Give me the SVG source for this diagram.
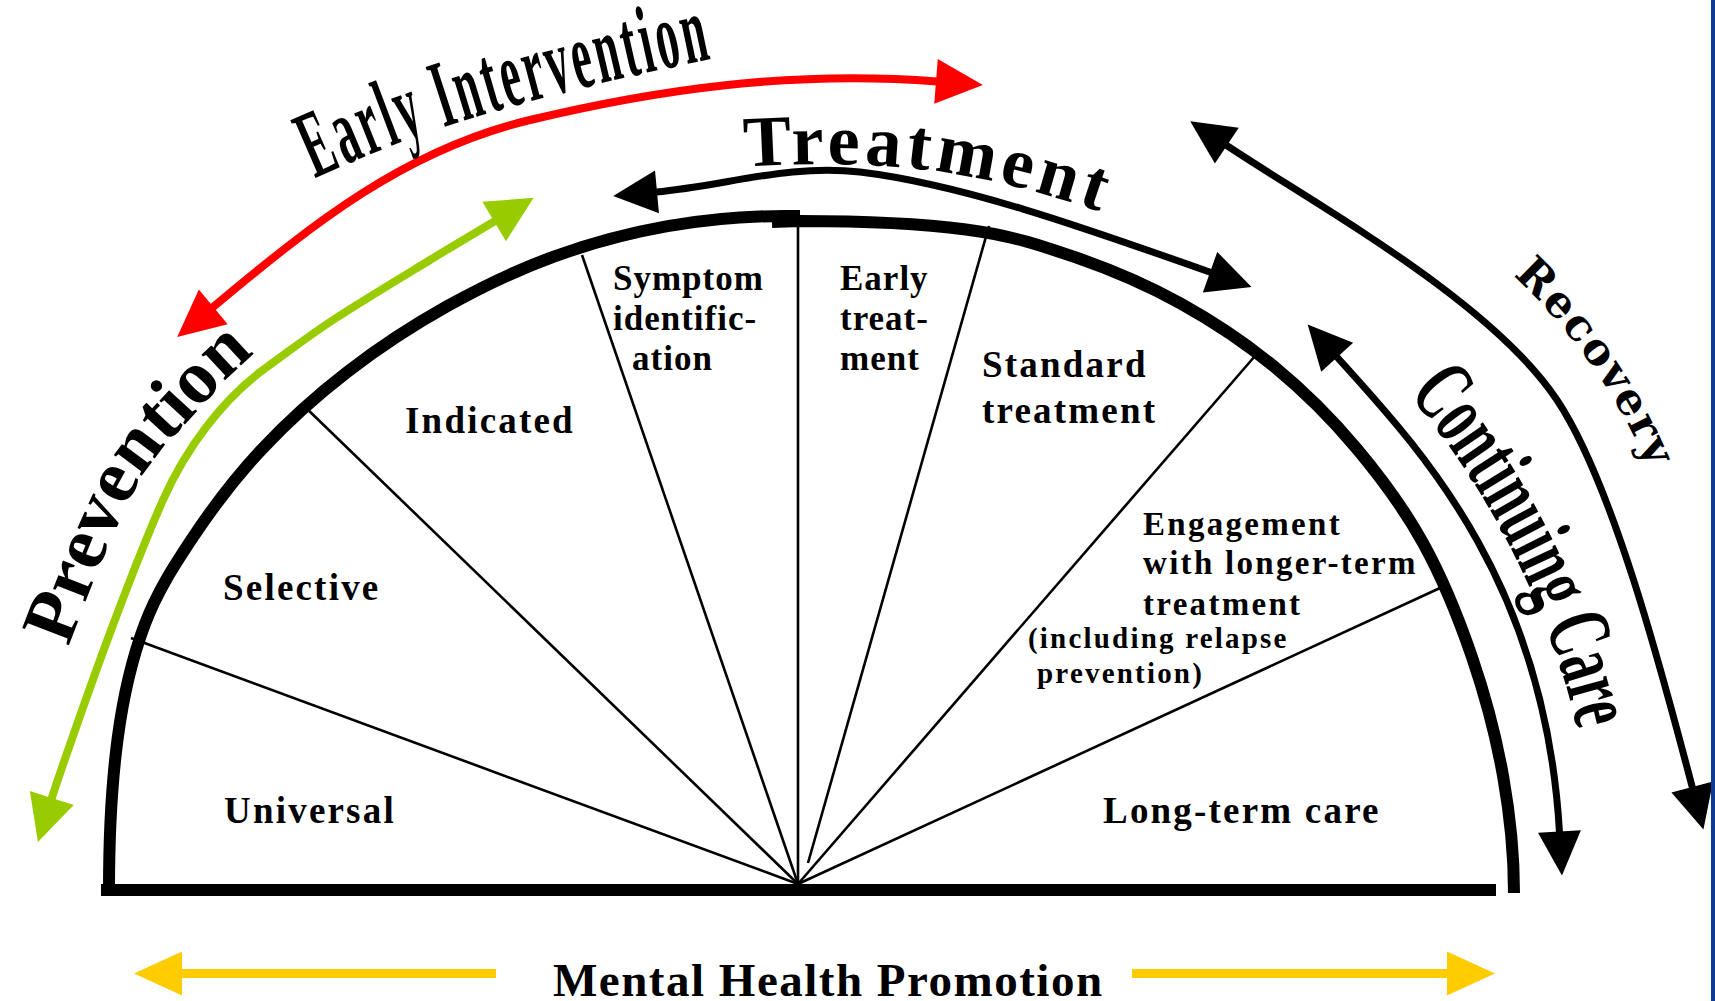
<svg xmlns="http://www.w3.org/2000/svg" width="1715" height="1001" viewBox="0 0 1715 1001">
<defs>
<style>
.serif{font-family:"Liberation Serif","Times New Roman",serif;font-weight:bold;fill:#000}
.slab{font-family:"DejaVu Serif","Liberation Serif",serif;font-weight:bold;fill:#000}
.spoke{stroke:#000;stroke-width:2.6;fill:none}
.rim{stroke:#000;stroke-width:12;fill:none}
.red{stroke:#FF0000;stroke-width:8;fill:none}
.green{stroke:#99CC00;stroke-width:8;fill:none}
.blk{stroke:#000;stroke-width:7;fill:none}
.yel{stroke:#FFCC00;stroke-width:9;fill:none}
.c37{font-size:37px;letter-spacing:2.2px}
.c35{font-size:35px;letter-spacing:1px}
.c33{font-size:33px;letter-spacing:2.3px}
.c29{font-size:29px;letter-spacing:2.2px}
</style>
<marker id="mRed" markerUnits="userSpaceOnUse" markerWidth="48" markerHeight="46" refX="1" refY="22.5" orient="auto-start-reverse" overflow="visible"><path d="M0,0 L47,22.5 L0,45 Z" fill="#FF0000"/></marker>
<marker id="mGreen" markerUnits="userSpaceOnUse" markerWidth="47" markerHeight="47" refX="1" refY="23" orient="auto-start-reverse" overflow="visible"><path d="M0,0 L46,23 L0,46 Z" fill="#99CC00"/></marker>
<marker id="mBlack" markerUnits="userSpaceOnUse" markerWidth="45" markerHeight="44" refX="1" refY="21.5" orient="auto-start-reverse" overflow="visible"><path d="M0,0 L44,21.5 L0,43 Z" fill="#000"/></marker>
<marker id="mYel" markerUnits="userSpaceOnUse" markerWidth="49" markerHeight="45" refX="1" refY="22" orient="auto" overflow="visible"><path d="M0,0 L48,22 L0,44 Z" fill="#FFCC00"/></marker>
<path id="pEI" d="M315,178 C380,150 460,110 725,56"/>
<path id="pPr" d="M19.2,788.8 C38.8,732.9 58.7,671.3 78.1,621.1 C97.5,570.9 116,522.7 135.6,487.9 C155.2,452.4 176,434.7 196,412.2 C216,389.7 234.1,370.7 255.5,353.1 C276.9,335.5 296.5,324.4 324.2,306.6 C351.9,288.8 389.2,266.5 421.7,246.4"/>
<path id="pTr" d="M740,167 C860,160 960,162 1112,216"/>
<path id="pRe" d="M1418,208 C1500,250 1600,345 1654,481"/>
<path id="pCC" d="M1400,385 C1478,470 1562,620 1585,770"/>
</defs>

<rect x="0" y="0" width="1715" height="1001" fill="#FFFFFF"/>

<g id="semicircle">
<rect x="101" y="884" width="1395" height="12" fill="#000"/>
<path class="rim" d="M109,890 C109,839.3 111.8,782.3 117.7,738.1 C123.6,693.9 132,658.5 144.6,624.9 C157.3,591.3 174.1,565.6 193.6,536.3 C213.1,507 236.1,476.7 261.8,449.3 C287.5,421.9 316.7,395.5 347.6,371.7 C378.5,347.9 412.6,325.5 447,306.3 C481.4,287.1 517,270 553.8,256.6 C590.6,243.3 629.1,233 667.6,226.2 C706.1,219.4 745.9,216 785,216 L800,216"/>
<path class="rim" d="M772,222 L800,221 C855.3,221 920,223.5 965.9,229.5 C1011.8,235.5 1039.4,244.9 1075.1,257.2 C1110.8,269.5 1146.9,284.9 1180.2,303.3 C1213.5,321.7 1245.7,343.2 1275.1,367.4 C1304.5,391.6 1331.8,418.9 1356.5,448.3 C1381.2,477.7 1404.2,508.8 1423.4,543.6 C1442.6,578.4 1458.7,618.3 1472,657.1 C1485.3,695.9 1496.1,737 1503.1,776.3 C1510.1,815.6 1514,854 1514,893"/>
<line class="spoke" x1="131" y1="638" x2="798" y2="884"/>
<line class="spoke" x1="303" y1="405" x2="798" y2="884"/>
<line class="spoke" x1="582" y1="255" x2="798" y2="884"/>
<line class="spoke" x1="798" y1="222" x2="798" y2="884"/>
<line class="spoke" x1="989" y1="226" x2="808" y2="863"/>
<line class="spoke" x1="1255" y1="356" x2="798" y2="884"/>
<line class="spoke" x1="1440" y1="588" x2="798" y2="884"/>
</g>

<g id="universal"><text class="serif c37" x="224" y="823">Universal</text></g>
<g id="selective"><text class="serif c37" x="223" y="600">Selective</text></g>
<g id="indicated"><text class="serif c37" x="405" y="433">Indicated</text></g>
<g id="symptom-identification">
<text class="serif c35" x="613" y="290">Symptom</text>
<text class="serif c35" x="613" y="330">identific-</text>
<text class="serif c35" x="632" y="370">ation</text>
</g>
<g id="early-treatment">
<text class="serif c35" x="840" y="290">Early</text>
<text class="serif c35" x="840" y="330">treat-</text>
<text class="serif c35" x="840" y="370">ment</text>
</g>
<g id="standard-treatment">
<text class="serif c37" x="982" y="377">Standard</text>
<text class="serif c37" x="982" y="423">treatment</text>
</g>
<g id="engagement">
<text class="serif c33" x="1143" y="535">Engagement</text>
<text class="serif c33" x="1143" y="574">with longer-term</text>
<text class="serif c33" x="1143" y="615">treatment</text>
<text class="serif c29" x="1028" y="648">(including relapse</text>
<text class="serif c29" x="1037" y="683">prevention)</text>
</g>
<g id="long-term-care"><text class="serif c37" x="1103" y="823">Long-term care</text></g>

<g id="connectors">
<path class="red" d="M212.5,307.5 C315,222 405,150 530,120 C655,90 790,70 937,81.5" marker-start="url(#mRed)" marker-end="url(#mRed)"/>
<path class="green" d="M495,221 C473.3,234 457,243.5 430,260 C403,276.5 360.2,302.2 333,320 C305.8,337.8 289,351.3 267,367 C222.2,398.9 185.3,449.7 163,500 C148,533.8 128.6,583.2 110,633 C91.4,682.8 59.6,773.4 51.5,799" marker-start="url(#mGreen)" marker-end="url(#mGreen)"/>
<path class="blk" d="M656,192 C726,185.5 790,163.6 860,172 C960,184 1080,226 1211,272.5" marker-start="url(#mBlack)" marker-end="url(#mBlack)"/>
<path class="blk" d="M1226,145 C1317.5,206 1490.4,300.2 1557,400 C1612.5,483.2 1662,672 1692.5,788" marker-start="url(#mBlack)" marker-end="url(#mBlack)"/>
<path class="blk" d="M1336.5,356.5 C1420,449 1545,580 1559.5,832.5" marker-start="url(#mBlack)" marker-end="url(#mBlack)"/>
<path class="yel" d="M496,973.5 L181,973.5" marker-end="url(#mYel)"/>
<path class="yel" d="M1132,973.5 L1448,973.5" marker-end="url(#mYel)"/>
</g>

<g id="early-intervention"><text class="serif" font-size="96" letter-spacing="7"><textPath href="#pEI" textLength="418" lengthAdjust="spacingAndGlyphs">Early Intervention</textPath></text></g>
<g id="prevention"><text class="serif" font-size="76"><textPath href="#pPr" startOffset="150">Prevention</textPath></text></g>
<g id="treatment"><text class="serif" font-size="72" letter-spacing="5"><textPath href="#pTr" startOffset="4">Treatment</textPath></text></g>
<g id="recovery"><text class="slab" font-size="44" letter-spacing="2"><textPath href="#pRe" startOffset="117">Recovery</textPath></text></g>
<g id="continuing-care"><text class="serif" font-size="90"><textPath href="#pCC" startOffset="12" textLength="380" lengthAdjust="spacingAndGlyphs">Continuing Care</textPath></text></g>
<g id="mental-health-promotion"><text class="serif" font-size="47" letter-spacing="1.5" x="553" y="996">Mental Health Promotion</text></g>

<rect x="1711" y="0" width="4" height="1001" fill="#0B3C95"/>
</svg>
